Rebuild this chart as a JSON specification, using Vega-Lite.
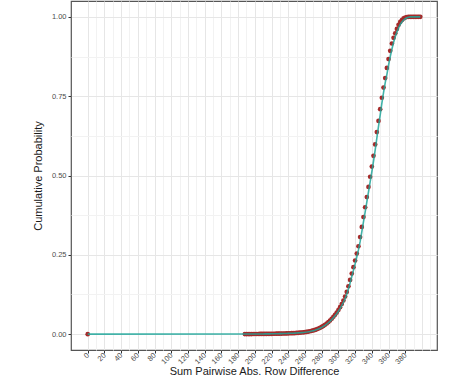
{
  "$schema": "https://vega.github.io/schema/vega-lite/v6.json",
  "width": 366,
  "height": 349,
  "autosize": {"type": "none"},
  "padding": {"left": 71, "top": 1, "right": 37, "bottom": 31},
  "background": "white",
  "config": {
    "font": "Liberation Sans",
    "view": {"stroke": "#555555", "strokeWidth": 1.2},
    "axis": {"domain": false, "labelFont": "Liberation Sans", "titleFont": "Liberation Sans", "labelColor": "#4D4D4D", "labelFontSize": 7.5, "titleFontSize": 11, "titleFontWeight": "normal", "titleColor": "#1a1a1a", "tickColor": "#333333", "tickSize": 3}
  },
  "data": {"values": [
    {"x": 0, "p": 0, "q": 0},
    {"x": 188, "p": 0.0002, "q": 0.0002},
    {"x": 190, "p": 0.0002, "q": 0.0002},
    {"x": 192, "p": 0.0003, "q": 0.00025},
    {"x": 194, "p": 0.0003, "q": 0.0003},
    {"x": 196, "p": 0.0003, "q": 0.0003},
    {"x": 198, "p": 0.0004, "q": 0.00035},
    {"x": 200, "p": 0.0004, "q": 0.0004},
    {"x": 202, "p": 0.0005, "q": 0.00045},
    {"x": 204, "p": 0.0005, "q": 0.0005},
    {"x": 206, "p": 0.0006, "q": 0.00055},
    {"x": 208, "p": 0.0006, "q": 0.0006},
    {"x": 210, "p": 0.0007, "q": 0.00065},
    {"x": 212, "p": 0.0008, "q": 0.00075},
    {"x": 214, "p": 0.0008, "q": 0.0008},
    {"x": 216, "p": 0.0009, "q": 0.00085},
    {"x": 218, "p": 0.0010, "q": 0.00095},
    {"x": 220, "p": 0.0011, "q": 0.00105},
    {"x": 222, "p": 0.0012, "q": 0.00115},
    {"x": 224, "p": 0.0013, "q": 0.00125},
    {"x": 226, "p": 0.0014, "q": 0.00135},
    {"x": 228, "p": 0.0015, "q": 0.00145},
    {"x": 230, "p": 0.0017, "q": 0.0016},
    {"x": 232, "p": 0.0018, "q": 0.00175},
    {"x": 234, "p": 0.0020, "q": 0.0019},
    {"x": 236, "p": 0.0021, "q": 0.00205},
    {"x": 238, "p": 0.0023, "q": 0.0022},
    {"x": 240, "p": 0.0025, "q": 0.0024},
    {"x": 242, "p": 0.0027, "q": 0.0026},
    {"x": 244, "p": 0.0029, "q": 0.0028},
    {"x": 246, "p": 0.0031, "q": 0.003},
    {"x": 248, "p": 0.0034, "q": 0.00325},
    {"x": 250, "p": 0.0037, "q": 0.00355},
    {"x": 252, "p": 0.0041, "q": 0.0039},
    {"x": 254, "p": 0.0046, "q": 0.00435},
    {"x": 256, "p": 0.0051, "q": 0.00485},
    {"x": 258, "p": 0.0057, "q": 0.0054},
    {"x": 260, "p": 0.0063, "q": 0.006},
    {"x": 262, "p": 0.0071, "q": 0.0067},
    {"x": 264, "p": 0.0080, "q": 0.00755},
    {"x": 266, "p": 0.0091, "q": 0.00855},
    {"x": 268, "p": 0.0103, "q": 0.0097},
    {"x": 270, "p": 0.0117, "q": 0.011},
    {"x": 272, "p": 0.0134, "q": 0.01255},
    {"x": 274, "p": 0.0153, "q": 0.01435},
    {"x": 276, "p": 0.0175, "q": 0.0164},
    {"x": 278, "p": 0.0200, "q": 0.01875},
    {"x": 280, "p": 0.0228, "q": 0.0214},
    {"x": 282, "p": 0.0260, "q": 0.0244},
    {"x": 284, "p": 0.0296, "q": 0.0278},
    {"x": 286, "p": 0.0336, "q": 0.0316},
    {"x": 288, "p": 0.0381, "q": 0.03585},
    {"x": 290, "p": 0.0430, "q": 0.04055},
    {"x": 292, "p": 0.0485, "q": 0.04575},
    {"x": 294, "p": 0.0545, "q": 0.0515},
    {"x": 296, "p": 0.0610, "q": 0.05775},
    {"x": 298, "p": 0.0680, "q": 0.0645},
    {"x": 300, "p": 0.0760, "q": 0.072},
    {"x": 302, "p": 0.0850, "q": 0.0805},
    {"x": 304, "p": 0.0950, "q": 0.090},
    {"x": 306, "p": 0.1060, "q": 0.1005},
    {"x": 308, "p": 0.1185, "q": 0.112},
    {"x": 310, "p": 0.1330, "q": 0.126},
    {"x": 312, "p": 0.1510, "q": 0.142},
    {"x": 314, "p": 0.1710, "q": 0.161},
    {"x": 316, "p": 0.1910, "q": 0.181},
    {"x": 318, "p": 0.2110, "q": 0.201},
    {"x": 320, "p": 0.2320, "q": 0.2215},
    {"x": 322, "p": 0.2540, "q": 0.243},
    {"x": 324, "p": 0.2770, "q": 0.2655},
    {"x": 326, "p": 0.3060, "q": 0.2915},
    {"x": 328, "p": 0.3380, "q": 0.322},
    {"x": 330, "p": 0.3690, "q": 0.3535},
    {"x": 332, "p": 0.4000, "q": 0.3845},
    {"x": 334, "p": 0.4320, "q": 0.416},
    {"x": 336, "p": 0.4640, "q": 0.448},
    {"x": 338, "p": 0.4960, "q": 0.480},
    {"x": 340, "p": 0.5280, "q": 0.5115},
    {"x": 342, "p": 0.5620, "q": 0.5445},
    {"x": 344, "p": 0.5980, "q": 0.580},
    {"x": 346, "p": 0.6370, "q": 0.6175},
    {"x": 348, "p": 0.6720, "q": 0.6545},
    {"x": 350, "p": 0.7090, "q": 0.6905},
    {"x": 352, "p": 0.7450, "q": 0.727},
    {"x": 354, "p": 0.7770, "q": 0.761},
    {"x": 356, "p": 0.8070, "q": 0.792},
    {"x": 358, "p": 0.8390, "q": 0.818},
    {"x": 360, "p": 0.8670, "q": 0.848},
    {"x": 362, "p": 0.8930, "q": 0.874},
    {"x": 364, "p": 0.9160, "q": 0.898},
    {"x": 366, "p": 0.9340, "q": 0.919},
    {"x": 368, "p": 0.9480, "q": 0.937},
    {"x": 370, "p": 0.9620, "q": 0.952},
    {"x": 372, "p": 0.9750, "q": 0.965},
    {"x": 374, "p": 0.9840, "q": 0.976},
    {"x": 376, "p": 0.9900, "q": 0.984},
    {"x": 378, "p": 0.9950, "q": 0.990},
    {"x": 380, "p": 0.9980, "q": 0.994},
    {"x": 382, "p": 0.9995, "q": 0.997},
    {"x": 384, "p": 1, "q": 0.999},
    {"x": 386, "p": 1, "q": 1},
    {"x": 388, "p": 1, "q": 1},
    {"x": 390, "p": 1, "q": 1},
    {"x": 392, "p": 1, "q": 1},
    {"x": 394, "p": 1, "q": 1},
    {"x": 396, "p": 1, "q": 1},
    {"x": 398, "p": 1, "q": 1}
  ]},
  "encoding": {
    "x": {
      "field": "x", "type": "quantitative",
      "scale": {"domain": [-20, 418], "nice": false, "zero": false},
      "axis": {
        "title": "Sum Pairwise Abs. Row Difference",
        "values": [0,10,20,30,40,50,60,70,80,90,100,110,120,130,140,150,160,170,180,190,200,210,220,230,240,250,260,270,280,290,300,310,320,330,340,350,360,370,380,390,400,410],
        "labelExpr": "datum.value % 20 === 0 && datum.value <= 380 ? datum.label : ''",
        "tickOpacity": {"condition": {"test": "datum.value % 20 === 0 && datum.value <= 380", "value": 1}, "value": 0},
        "gridColor": {"condition": {"test": "datum.value % 20 === 0", "value": "#E6E6E6"}, "value": "#F2F2F2"},
        "labelAngle": -45,
        "labelAlign": "right",
        "labelBaseline": "middle",
        "labelPadding": 1,
        "labelFlush": false,
        "labelOverlap": false,
        "titlePadding": 0,
        "titleBaseline": "top"
      }
    }
  },
  "layer": [
    {
      "mark": {"type": "point", "filled": true, "size": 22, "color": "#A52A2A", "opacity": 1},
      "encoding": {
        "y": {
          "field": "p", "type": "quantitative",
          "scale": {"domain": [-0.05, 1.05], "nice": false, "zero": false},
          "axis": {
            "title": "Cumulative Probability",
            "values": [0, 0.125, 0.25, 0.375, 0.5, 0.625, 0.75, 0.875, 1],
            "format": ".2f",
            "labelExpr": "(datum.value * 8) % 2 === 0 ? datum.label : ''",
            "tickOpacity": {"condition": {"test": "(datum.value * 8) % 2 === 0", "value": 1}, "value": 0},
            "gridColor": {"condition": {"test": "(datum.value * 8) % 2 === 0", "value": "#E6E6E6"}, "value": "#F2F2F2"},
            "labelPadding": 2,
            "titlePadding": 8
          }
        }
      }
    },
    {
      "mark": {"type": "line", "color": "#20A69A", "strokeWidth": 1.6, "opacity": 0.85},
      "encoding": {"y": {"field": "q", "type": "quantitative"}}
    }
  ]
}
